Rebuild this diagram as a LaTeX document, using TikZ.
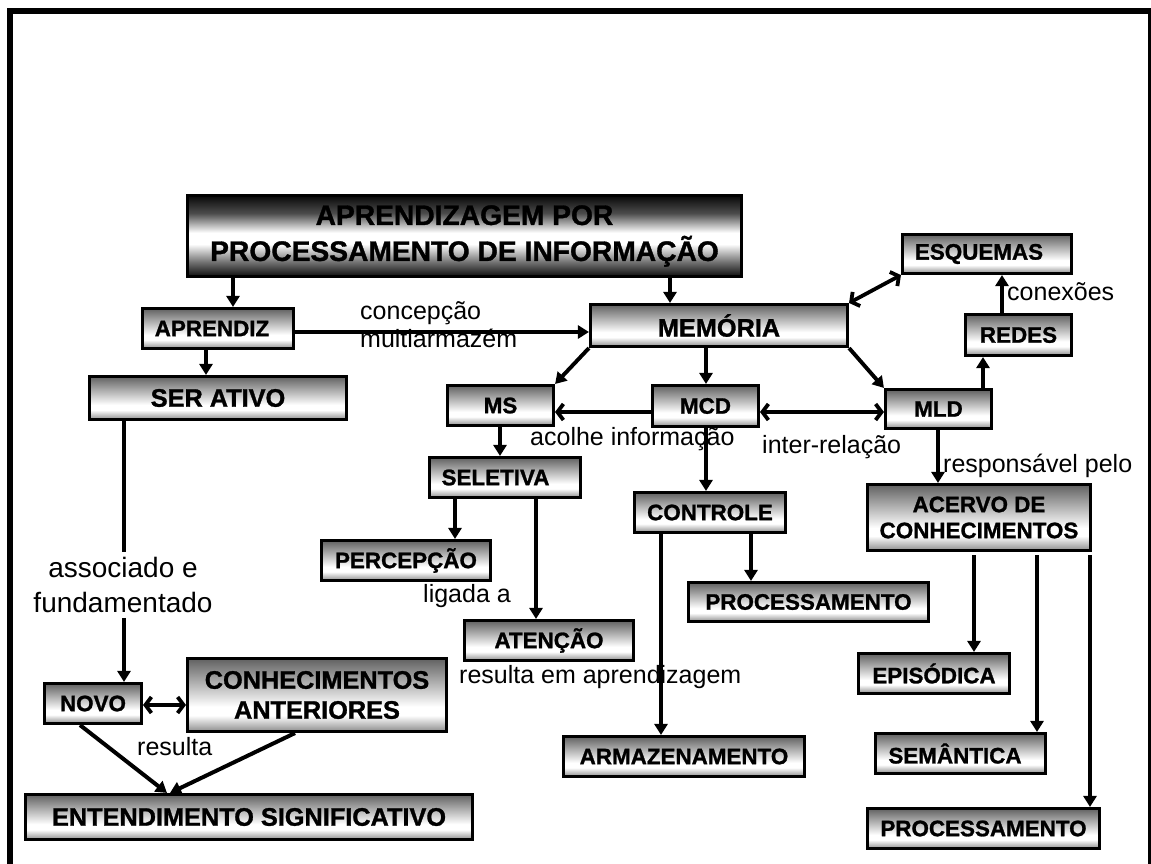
\documentclass[tikz,border=0pt]{standalone}
\usepackage{fontspec}
\setmainfont{Liberation Sans}[BoldFeatures={FakeBold=1.2}]
\usetikzlibrary{arrows.meta}
\pgfdeclareverticalshading{boxsh}{100bp}{color(0bp)=(black!45); color(25bp)=(black!45); color(36bp)=(white); color(42bp)=(white); color(75bp)=(black!62); color(100bp)=(black!62)}
\pgfdeclareverticalshading{ttlsh}{100bp}{color(0bp)=(black); color(25bp)=(black!95); color(34bp)=(black!55); color(45bp)=(white); color(52bp)=(white); color(64bp)=(black!70); color(75bp)=(black!97); color(100bp)=(black!97)}
\begin{document}
\begin{tikzpicture}[x=1pt,y=-1pt,
  bx/.style={draw=black, line width=3.1pt, shade, shading=boxsh, inner sep=0pt, align=center,
    font=\bfseries\fontsize{22.4}{26}\selectfont},
  bigbx/.style={bx, font=\bfseries\fontsize{25.3}{30}\selectfont},
  ttlbx/.style={bx, shading=ttlsh, line width=3.6pt, font=\bfseries\fontsize{28.2}{36}\selectfont},
  lbl/.style={inner sep=0pt, font=\fontsize{25}{28}\selectfont},
  arr/.style={line width=3.5pt, -{Triangle[length=11pt,width=13pt]}},
  darr/.style={line width=3.8pt, {Straight Barb[length=6pt,width=16pt]}-{Straight Barb[length=6pt,width=16pt]}},
  sarr/.style={line width=3.8pt, -{Straight Barb[length=6pt,width=16pt]}},
  frame/.style={line width=6pt, line join=miter}
]
\useasboundingbox (0,0) rectangle (1151,864);
\clip (0,0) rectangle (1151,864);
\draw[frame] (10,900) -- (10,11) -- (1151,11) -- (1151,900);

% boxes
\node[ttlbx, minimum width=554pt, minimum height=81pt] (title) at (464.5,236) {APRENDIZAGEM POR\\PROCESSAMENTO DE INFORMAÇÃO};
\node[bx, minimum width=151pt, minimum height=40pt] (aprendiz) at (218,328.5) {APRENDIZ\hspace*{12pt}};
\node[bigbx, minimum width=257pt, minimum height=43pt] (serativo) at (218,398) {SER ATIVO};
\node[bigbx, minimum width=257pt, minimum height=42pt] (memoria) at (719,325.5) {MEMÓRIA};
\node[bx, minimum width=169pt, minimum height=39pt] (esquemas) at (987,254) {ESQUEMAS\hspace*{16pt}};
\node[bx, minimum width=106pt, minimum height=41pt] (redes) at (1018.5,335) {REDES};
\node[bx, minimum width=106pt, minimum height=39pt] (mld) at (938.5,409) {MLD};
\node[bx, minimum width=106pt, minimum height=41pt] (mcd) at (705.5,406) {MCD};
\node[bx, minimum width=106pt, minimum height=40pt] (ms) at (500.5,405.5) {MS};
\node[bx, minimum width=151pt, minimum height=40pt] (seletiva) at (505,477.5) {SELETIVA\hspace*{19pt}};
\node[bx, minimum width=151pt, minimum height=40pt] (controle) at (710,512.5) {CONTROLE};
\node[bx, minimum width=169pt, minimum height=40pt] (percepcao) at (406,560.5) {PERCEPÇÃO};
\node[bx, minimum width=240pt, minimum height=39pt] (procA) at (808.5,602) {PROCESSAMENTO};
\node[bx, minimum width=169pt, minimum height=40pt] (atencao) at (549,640.5) {ATENÇÃO};
\node[bx, minimum width=241pt, minimum height=40pt] (armaz) at (684,756.5) {ARMAZENAMENTO};
\node[bx, minimum width=223pt, minimum height=66pt] (acervo) at (979,517.5) {ACERVO DE\\CONHECIMENTOS};
\node[bx, minimum width=151pt, minimum height=40pt] (episodica) at (934,673.5) {EPISÓDICA};
\node[bx, minimum width=170pt, minimum height=40pt] (semantica) at (960.5,753.5) {SEMÂNTICA\hspace*{11pt}};
\node[bx, minimum width=232pt, minimum height=40pt] (procB) at (983.5,828.5) {PROCESSAMENTO};
\node[bx, minimum width=97pt, minimum height=40pt] (novo) at (93,703.5) {NOVO};
\node[bigbx, minimum width=259pt, minimum height=73pt] (conhec) at (317,695) {CONHECIMENTOS\\ANTERIORES};
\node[bigbx, minimum width=447pt, minimum height=45pt] (entend) at (249,817) {ENTENDIMENTO SIGNIFICATIVO};

% labels
\node[lbl, anchor=base west] (lconc) at (360,319) {concepção};
\node[lbl, anchor=base west] (lmulti) at (360,347) {multiarmazém};
\node[lbl, anchor=base west] (lconex) at (1007,300) {conexões};
\node[lbl, anchor=base west] (lacolhe) at (530,445) {acolhe informação};
\node[lbl, anchor=base west] (linter) at (762,453) {inter-relação};
\node[lbl, anchor=base west] (lresp) at (943,472) {responsável pelo};
\node[lbl, anchor=base west] (lligada) at (423,602) {ligada a};
\node[lbl, anchor=base west] (lresap) at (459,683) {resulta em aprendizagem};
\node[lbl, anchor=base west] (lresulta) at (137,755) {resulta};
\node[lbl, inner ysep=5pt, align=center, font=\fontsize{28}{35}\selectfont] (lassoc) at (123,585) {associado e\\fundamentado};

% connectors
\draw[arr] ([xshift=-231.5pt]title.south) -- ([xshift=15pt]aprendiz.north);
\draw[arr] ([xshift=205.5pt]title.south) -- ([xshift=-49pt]memoria.north);
\draw[arr] ([xshift=-12pt]aprendiz.south) -- ([xshift=-12pt]serativo.north);
\draw[arr] ([yshift=-3.5pt]aprendiz.east) -- ([yshift=-6.5pt]memoria.west);
\draw[darr] (memoria.north east) -- (esquemas.south west);
\draw[arr] ([xshift=-16.5pt]redes.north) -- ([xshift=15pt]esquemas.south);
\draw[arr] ([xshift=44.5pt]mld.north) -- ([xshift=-35.5pt]redes.south);
\draw[arr, line width=3.9pt] (memoria.south west) -- (ms.north east);
\draw[arr] ([xshift=-13pt]memoria.south) -- ([xshift=0.5pt]mcd.north);
\draw[arr, line width=3.9pt] (memoria.south east) -- (mld.north west);
\draw[sarr] ([yshift=-6pt]mcd.west) -- ([yshift=-6.5pt]ms.east);
\draw[darr] ([yshift=-6pt]mcd.east) -- ([yshift=-3pt]mld.west);
\draw[arr] ([xshift=-0.5pt]ms.south) -- ([xshift=-5pt]seletiva.north);
\draw[arr] ([xshift=0.5pt]mcd.south) -- ([xshift=-4pt]controle.north);
\draw[arr] ([xshift=-50pt]seletiva.south) -- ([xshift=49pt]percepcao.north);
\draw[arr] ([xshift=31pt]seletiva.south) -- ([xshift=-13pt]atencao.north);
\draw[arr] ([xshift=41pt]controle.south) -- ([xshift=-57.5pt]procA.north);
\draw[arr] ([xshift=-49pt]controle.south) -- ([xshift=-23pt]armaz.north);
\draw[arr] ([xshift=-0.5pt]mld.south) -- ([xshift=-41pt]acervo.north);
\draw[arr, shorten <=3pt] ([xshift=-5pt]acervo.south) -- ([xshift=40pt]episodica.north);
\draw[arr, shorten <=3pt] ([xshift=58pt]acervo.south) -- ([xshift=76.5pt]semantica.north);
\draw[arr, shorten <=3pt] ([xshift=111pt]acervo.south) -- ([xshift=106.5pt]procB.north);
\draw[line width=3.3pt] ([xshift=-94pt]serativo.south) -- ([xshift=1pt]lassoc.north);
\draw[arr] ([xshift=1pt]lassoc.south) -- ([xshift=31pt]novo.north);
\draw[darr] ([yshift=-1.5pt]novo.east) -- ([yshift=-10pt]conhec.west);
\draw[arr, line width=4pt] ([xshift=-13pt]novo.south) -- ([xshift=-82pt]entend.north);
\draw[arr, line width=4pt] ([xshift=-22pt]conhec.south) -- ([xshift=-79pt]entend.north);
\end{tikzpicture}
\end{document}
